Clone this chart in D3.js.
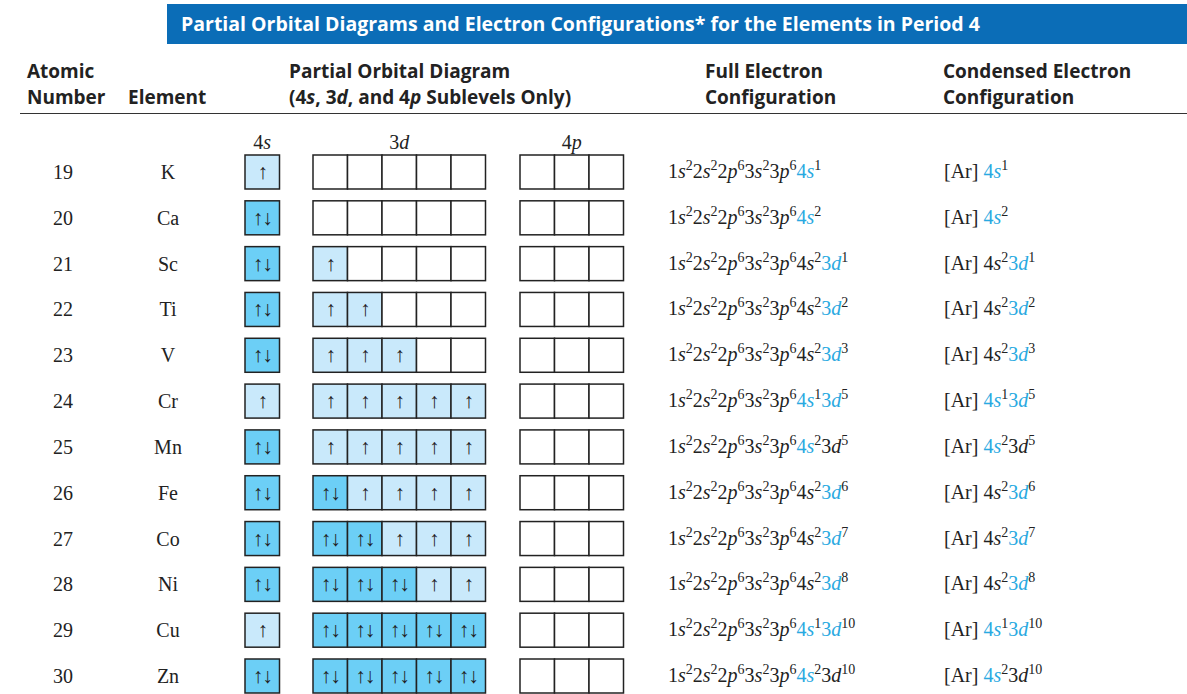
<!DOCTYPE html>
<html><head><meta charset="utf-8">
<script src="https://cdn.jsdelivr.net/npm/d3@7"></script>
<style>body{margin:0;background:#fff}</style>
</head><body><svg width="1187" height="694"></svg>
<script>
var numbers = [19,20,21,22,23,24,25,26,27,28,29,30];
var symbols = ["K","Ca","Sc","Ti","V","Cr","Mn","Fe","Co","Ni","Cu","Zn"];
var sElectrons = [1,2,2,2,2,1,2,2,2,2,1,2];
var dElectrons = [0,0,1,2,3,5,5,6,7,8,10,10];
// which sublevel is highlighted in blue: [4s, 3d]
var blue4s = [1,1,0,0,0,1,1,0,0,0,1,1];
var blue3d = [0,0,1,1,1,1,0,1,1,1,1,0];

var BLUE = "#29a9e1", PALE = "#c9e9fb", DARK = "#6ccff6";
var svg = d3.select("svg");
var sans = "'Open Sans', Lato, sans-serif", serif = "'Liberation Serif', 'DejaVu Serif', serif";

svg.append("rect").attr("x",167).attr("y",4).attr("width",1020).attr("height",40).attr("fill","#0b6db7");
svg.append("text").attr("x",181).attr("y",31).attr("fill","#fff").attr("font-family",sans)
  .attr("font-weight",700).attr("font-size",19.5)
  .text("Partial Orbital Diagrams and Electron Configurations* for the Elements in Period 4");

var heads = [[27,["Atomic","Number"]],[128,["","Element"]],[289,["Partial Orbital Diagram",null]],
  [705,["Full Electron","Configuration"]],[943,["Condensed Electron","Configuration"]]];
heads.forEach(function(h){
  var t = svg.append("text").attr("x",h[0]).attr("font-family",sans).attr("font-weight",700).attr("font-size",19).attr("fill","#222");
  if(h[1][0]) t.append("tspan").attr("x",h[0]).attr("y",78).text(h[1][0]);
  var t2 = svg.append("text").attr("x",h[0]).attr("y",104).attr("font-family",sans).attr("font-weight",700).attr("font-size",19).attr("fill","#222");
  if(h[1][1]) t2.text(h[1][1]);
  else {
    t2.append("tspan").text("(4");t2.append("tspan").attr("font-style","italic").text("s");
    t2.append("tspan").text(", 3");t2.append("tspan").attr("font-style","italic").text("d");
    t2.append("tspan").text(", and 4");t2.append("tspan").attr("font-style","italic").text("p");
    t2.append("tspan").text(" Sublevels Only)");
  }
});
svg.append("line").attr("x1",20).attr("x2",1187).attr("y1",113.5).attr("y2",113.5).attr("stroke","#333").attr("stroke-width",1.2);

var y = d3.scaleBand().domain(symbols).range([155,693]).paddingInner(0.258).paddingOuter(0);
var bw = 34.5;
var groups = [{name:"4s",x:245,n:1},{name:"3d",x:313,n:5},{name:"4p",x:520,n:3}];
groups.forEach(function(g){
  var t = svg.append("text").attr("x",g.x+g.n*bw/2).attr("y",149).attr("text-anchor","middle")
    .attr("font-family",serif).attr("font-size",20).attr("fill","#222");
  t.append("tspan").text(g.name[0]);
  t.append("tspan").attr("font-style","italic").text(g.name[1]);
});

function fill(e,n){ // Hund's rule occupancy
  var o=[];for(var i=0;i<n;i++)o.push(e>i?(e>i+n?2:1):0);return o;
}
var rows = svg.selectAll("g.row").data(symbols).enter().append("g").attr("class","row")
  .attr("transform",function(d){return "translate(0,"+y(d)+")";});
var h = y.bandwidth();

rows.append("text").attr("x",63).attr("y",h/2+7).attr("text-anchor","middle").attr("font-family",serif)
  .attr("font-size",20).attr("fill","#222").text(function(d,i){return numbers[i];});
rows.append("text").attr("x",168).attr("y",h/2+7).attr("text-anchor","middle").attr("font-family",serif)
  .attr("font-size",20).attr("fill","#222").text(function(d){return d;});

rows.each(function(d,i){
  var g = d3.select(this);
  var occ = [fill(sElectrons[i],1),fill(dElectrons[i],5),fill(0,3)];
  groups.forEach(function(gr,k){
    occ[k].forEach(function(o,j){
      var x = gr.x+j*bw;
      g.append("rect").attr("x",x).attr("y",0).attr("width",bw).attr("height",h)
        .attr("fill",o==2?DARK:o==1?PALE:"#fff").attr("stroke","#222").attr("stroke-width",1.5);
      if(o>0) g.append("text").attr("x",x+bw/2).attr("y",h/2+7).attr("text-anchor","middle")
        .attr("font-family",serif).attr("font-size",21).attr("letter-spacing",-1).attr("fill","#222")
        .text(o==2?"\u2191\u2193":"\u2191");
    });
  });
  function conf(t, i, full){
    var parts = full?[["1s",0,"2"],["2s",0,"2"],["2p",0,"6"],["3s",0,"2"],["3p",0,"6"]]:[];
    parts.push(["4s",blue4s[i],String(sElectrons[i])]);
    if(dElectrons[i]) parts.push(["3d",blue3d[i],String(dElectrons[i])]);
    var first = true;
    parts.forEach(function(p){
      var c = p[1]?BLUE:"#222";
      var b = t.append("tspan").attr("fill",c).text(p[0][0]);
      if(!first) b.attr("dy",8);
      first = false;
      t.append("tspan").attr("fill",c).attr("font-style","italic").text(p[0][1]);
      t.append("tspan").attr("fill","#222").attr("font-size",14).attr("dy",-8).text(p[2]);
    });
  }
  var t1 = g.append("text").attr("x",668).attr("y",h/2+6).attr("font-family",serif).attr("font-size",20).attr("fill","#222");
  conf(t1,i,true);
  var t2 = g.append("text").attr("x",944).attr("y",h/2+6).attr("font-family",serif).attr("font-size",20).attr("fill","#222");
  t2.append("tspan").text("[Ar] ");
  conf(t2,i,false);
});
</script></body></html>
